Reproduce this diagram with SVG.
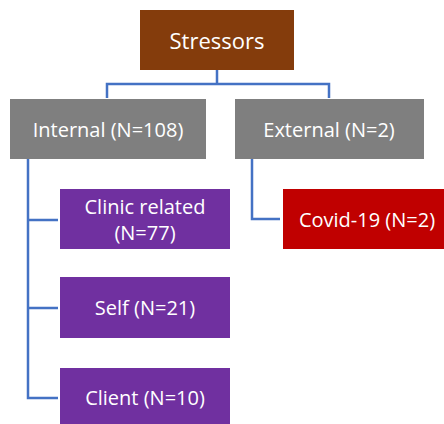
<svg xmlns="http://www.w3.org/2000/svg" width="444" height="424" viewBox="0 0 444 424">
<style>
.t{font-family:"Open Sans","Liberation Sans",sans-serif;font-size:20px;fill:#ffffff;text-anchor:middle;dominant-baseline:central}
.c{fill:none;stroke:#4472C4;stroke-width:2.5}
</style>
<rect width="444" height="424" fill="#ffffff"/>
<g id="connectors">
<path class="c" d="M217,70 V84 M107,98 V84 H329 V98"/>
<path class="c" d="M28,159 V398 H58 M28,220 H58 M28,308 H58"/>
<path class="c" d="M252,159 V219 H280"/>
</g>
<g id="stressors"><rect x="140" y="10" width="154" height="60" fill="#843C0C"/><text class="t" x="217" y="40" style="font-size:22px">Stressors</text></g>
<g id="internal"><rect x="10" y="99" width="196" height="60" fill="#7F7F7F"/><text class="t" x="108" y="129">Internal (N=108)</text></g>
<g id="external"><rect x="235" y="99" width="189" height="60" fill="#7F7F7F"/><text class="t" x="329" y="129">External (N=2)</text></g>
<g id="clinic"><rect x="60" y="189" width="170" height="60" fill="#7030A0"/><text class="t" x="145" y="206">Clinic related</text><text class="t" x="145" y="232">(N=77)</text></g>
<g id="self"><rect x="60" y="277" width="170" height="61" fill="#7030A0"/><text class="t" x="145" y="307">Self (N=21)</text></g>
<g id="client"><rect x="60" y="368" width="170" height="57" fill="#7030A0"/><text class="t" x="145" y="397">Client (N=10)</text></g>
<g id="covid"><rect x="283" y="189" width="161" height="60" fill="#C00000"/><text class="t" x="367" y="219">Covid-19 (N=2)</text></g>
</svg>
